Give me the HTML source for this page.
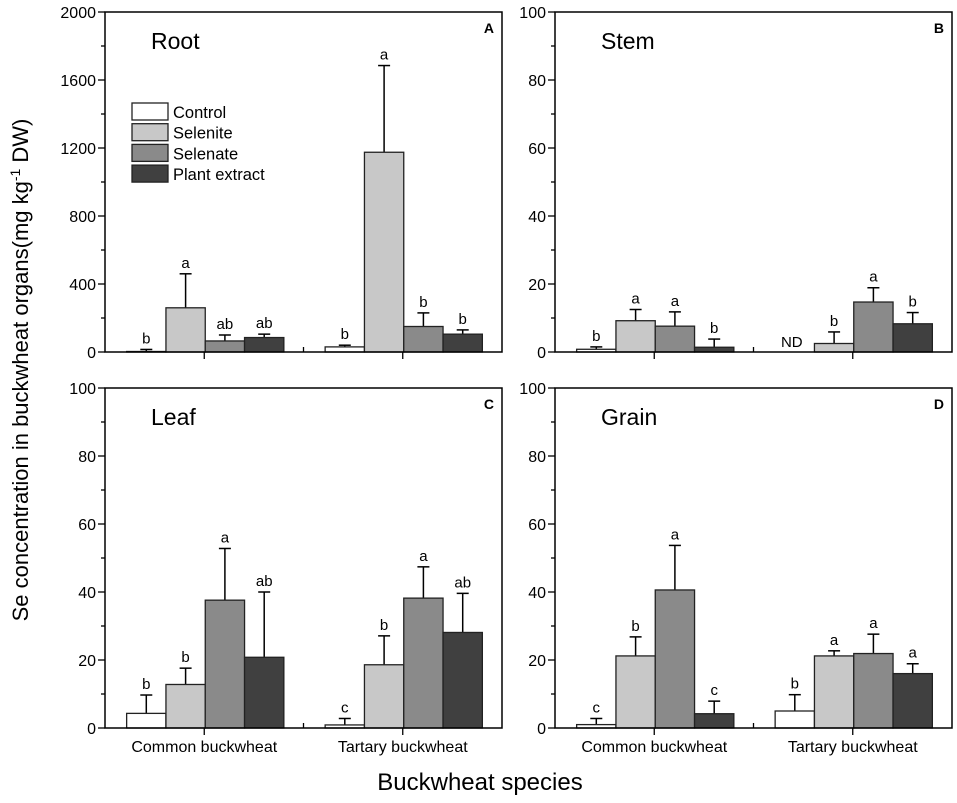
<!DOCTYPE html>
<html><head><meta charset="utf-8"><style>
body{margin:0;background:#fff;}
svg{display:block;font-family:"Liberation Sans",Arial,sans-serif;}
</style></head><body>
<svg id="chart" width="957" height="803" viewBox="0 0 957 803" xmlns="http://www.w3.org/2000/svg">
<text transform="translate(28,370) rotate(-90)" text-anchor="middle" font-size="22">Se concentration in buckwheat organs(mg kg<tspan dy="-8" font-size="14">-1</tspan><tspan dy="8"> DW)</tspan></text>
<text x="480" y="790" text-anchor="middle" font-size="24">Buckwheat species</text>
</svg>
<script>
const categories = ["Common buckwheat", "Tartary buckwheat"];
const seriesNames = ["Control", "Selenite", "Selenate", "Plant extract"];
const rootMeans = [[3, 260, 65, 85], [30, 1175, 150, 105]];
const rootErr = [[15, 460, 100, 105], [40, 1685, 230, 130]];
const rootLetters = [["b", "a", "ab", "ab"], ["b", "a", "b", "b"]];
const stemMeans = [[0.8, 9.2, 7.6, 1.4], [0, 2.5, 14.7, 8.3]];
const stemErr = [[1.5, 12.5, 11.8, 3.8], [0, 5.9, 18.9, 11.6]];
const stemLetters = [["b", "a", "a", "b"], ["ND", "b", "a", "b"]];
const leafMeans = [[4.3, 12.8, 37.6, 20.8], [0.9, 18.6, 38.2, 28.1]];
const leafErr = [[9.7, 17.6, 52.8, 40], [2.8, 27.1, 47.4, 39.6]];
const leafLetters = [["b", "b", "a", "ab"], ["c", "b", "a", "ab"]];
const grainMeans = [[1, 21.2, 40.6, 4.2], [5, 21.2, 21.9, 16]];
const grainErr = [[2.8, 26.8, 53.7, 7.9], [9.8, 22.7, 27.6, 18.9]];
const grainLetters = [["c", "b", "a", "c"], ["b", "a", "a", "a"]];
const rootTicks = [0, 400, 800, 1200, 1600, 2000];
const otherTicks = [0, 20, 40, 60, 80, 100];

const colors = ["#ffffff", "#c8c8c8", "#8a8a8a", "#404040"];
const NS = "http://www.w3.org/2000/svg";
const svg = document.getElementById("chart");
function mk(tag, attrs, parent, txt) {
  const e = document.createElementNS(NS, tag);
  for (const k in attrs) e.setAttribute(k, attrs[k]);
  if (txt !== undefined) e.textContent = txt;
  (parent || svg).appendChild(e);
  return e;
}

function panel(id, x0, x1, y0, y1, ticks, means, errs, letters, title, letter, showCats, legend) {
  const g = mk("g", {});
  
  
  const ymax = ticks[ticks.length - 1];
  const W = x1 - x0;
  const ys = v => y1 - (v / ymax) * (y1 - y0);
  const xc = i => x0 + W * (0.25 + 0.5 * i);
  const bw = W * 0.099;
  const step = ticks[1] - ticks[0];
  for (let t = 0; t <= ymax; t += step / 2) {
    const major = ticks.indexOf(t) >= 0;
    const ln = mk("line", {x1: x0 - (major ? 7 : 4), x2: x0, y1: ys(t), y2: ys(t), stroke: "#000", "stroke-width": 1.3}, g);
    
    
  }
  ticks.forEach(t => {
    const tl = mk("text", {x: x0 - 9, y: ys(t) + 6, "text-anchor": "end", "font-size": 16}, g, String(t));
    
    
  });
  [0.25, 0.5, 0.75].forEach(f => {
    const xt = mk("line", {x1: x0 + W * f, x2: x0 + W * f, y1: y1, y2: y1 + (f === 0.5 ? -5 : 7), stroke: "#000", "stroke-width": 1.3}, g);
    
    
  });
  means.forEach((grp, ci) => {
    grp.forEach((v, si) => {
      const bx = xc(ci) - 2 * bw + si * bw + 1;
      const cx = bx + bw / 2;
      if (letters[ci][si] === "ND") {
        const nd = mk("text", {x: cx - 3, y: y1 - 5, "text-anchor": "middle", "font-size": 15}, g, "ND");
        
        
        return;
      }
      const top = errs[ci][si];
      const el = mk("line", {x1: cx, x2: cx, y1: ys(v), y2: ys(top), stroke: "#000", "stroke-width": 1.5}, g);
      
      
      const cap = mk("line", {x1: cx - 6, x2: cx + 6, y1: ys(top), y2: ys(top), stroke: "#000", "stroke-width": 1.5}, g);
      
      
      const r = mk("rect", {x: bx, y: ys(v), width: bw, height: Math.max(0, y1 - ys(v)), fill: colors[si], stroke: "#222", "stroke-width": 1.3}, g);
      
      
      const lt = mk("text", {x: cx, y: ys(top) - 6, "text-anchor": "middle", "font-size": 15}, g, letters[ci][si]);
      
      
    });
    if (showCats) {
      const cl = mk("text", {x: xc(ci), y: y1 + 24, "text-anchor": "middle", "font-size": 16}, g, categories[ci]);
      
      
    }
  });
  const frame = mk("rect", {x: x0, y: y0, width: W, height: y1 - y0, fill: "none", stroke: "#000", "stroke-width": 1.5}, g);
  
  
  const tt = mk("text", {x: x0 + 46, y: y0 + 37, "font-size": 23}, g, title);
  
  
  const pl = mk("text", {x: x1 - 8, y: y0 + 21, "text-anchor": "end", "font-size": 14, "font-weight": "bold"}, g, letter);
  
  
  if (legend) {
    seriesNames.forEach((n, i) => {
      const ly = 103 + i * 20.7;
      const lb = mk("rect", {x: 132, y: ly, width: 36, height: 17, fill: colors[i], stroke: "#222", "stroke-width": 1.3}, g);
      
      
      const lx = mk("text", {x: 173, y: ly + 15, "font-size": 16.5}, g, n);
      
      
    });
  }
}
panel("root", 105, 502, 12, 352, rootTicks, rootMeans, rootErr, rootLetters, "Root", "A", false, true);
panel("stem", 555, 952, 12, 352, otherTicks, stemMeans, stemErr, stemLetters, "Stem", "B", false, false);
panel("leaf", 105, 502, 388, 728, otherTicks, leafMeans, leafErr, leafLetters, "Leaf", "C", true, false);
panel("grain", 555, 952, 388, 728, otherTicks, grainMeans, grainErr, grainLetters, "Grain", "D", true, false);
</script>
</body></html>
